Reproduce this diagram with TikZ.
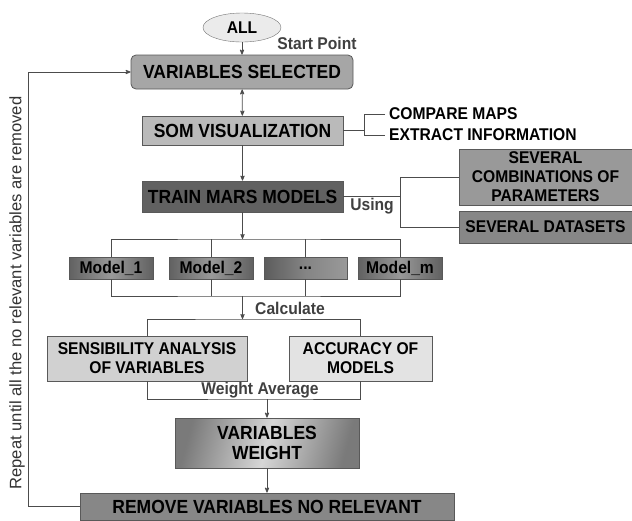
\documentclass[tikz,border=0pt]{standalone}
\usepackage{fontspec}
\setmainfont{Liberation Sans}
\newfontfamily\narrowsans[FakeStretch=0.92]{Liberation Sans}
\usepackage{tikz}
\usetikzlibrary{arrows, positioning, shapes}
\tikzset{
        >=stealth', % small bold arrow heads
        x=1pt, y=-1pt, % one unit is one pixel of the figure, y runs down
        box/.style={draw=black!65, line width=0.8pt, inner sep=0pt, align=center,
                    font=\narrowsans\bfseries\fontsize{19}{20.5}\selectfont}, % step boxes
        smallbox/.style={box, font=\narrowsans\bfseries\fontsize{17}{19}\selectfont}, % boxes with smaller text
        model/.style={smallbox, minimum width=84, minimum height=22,
                      left color=black!62, right color=black!62, middle color=black!40}, % one trained model
        note/.style={inner sep=0pt, text=black!75,
                     font=\narrowsans\bfseries\fontsize{17}{19}\selectfont}, % texts beside the lines
        link/.style={draw=black!70, line width=0.8pt}, % connectors
    }

\begin{document}
\begin{tikzpicture}
    \useasboundingbox (0,0) rectangle (632,520);
    % start
    \node[ellipse, draw=black!55, fill=black!8, minimum width=78, minimum height=29, inner sep=0pt,
          font=\narrowsans\bfseries\fontsize{17}{19}\selectfont] (all) at (242,27.5) {ALL};
    \node[note] (start) at (317,43) {Start Point};
    \node[box, rounded corners=5pt, fill=black!35, minimum width=222, minimum height=34] (varsel) at (242,72) {VARIABLES SELECTED};
    \node[box, fill=black!27, minimum width=201, minimum height=29] (som) at (242.5,130.5) {SOM VISUALIZATION};
    \node[note, anchor=west, text=black] (compare) at (389,114) {COMPARE MAPS};
    \node[note, anchor=west, text=black] (extract) at (389,135) {EXTRACT INFORMATION};
    % training
    \node[box, fill=black!62, minimum width=201, minimum height=31] (train) at (242.5,196.5) {TRAIN MARS MODELS};
    \node[note] (using) at (372,206) {Using};
    \node[smallbox, fill=black!40, minimum width=173, minimum height=56] (params) at (545.5,177) {SEVERAL\\COMBINATIONS OF\\PARAMETERS};
    \node[smallbox, fill=black!47, minimum width=173, minimum height=32] (datasets) at (545.5,227) {SEVERAL DATASETS};
    \node[model] (model1) at (111,268) {Model\_1};
    \node[model] (model2) at (211,268) {Model\_2};
    \node[model, minimum width=83, left color=black!64, right color=black!40, middle color=black!48] (modeldots) at (305.5,268) {...};
    \node[model] (modelm) at (400,268) {Model\_m};
    \coordinate (fanin) at (242.5,239);
    \coordinate (fanout) at (242.5,296);
    \coordinate (split) at (242.5,319);
    % evaluation
    \node[note] (calc) at (290,308) {Calculate};
    \node[smallbox, fill=black!18, minimum width=200, minimum height=45] (sens) at (147,358.5) {SENSIBILITY ANALYSIS\\OF VARIABLES};
    \node[smallbox, fill=black!11, minimum width=143, minimum height=45] (accur) at (360.5,358.5) {ACCURACY OF\\MODELS};
    \coordinate (merge) at (267,399);
    \node[note] (wavg) at (260,390) {Weight Average};
    \node[box, minimum width=184, minimum height=50, left color=black!52, right color=black!52, middle color=black!16,
          shading angle=75] (vweight) at (267,443) {VARIABLES\\WEIGHT};
    \node[box, fill=black!47, minimum width=374, minimum height=27] (remove) at (267,506.5) {REMOVE VARIABLES NO RELEVANT};
    \node[rotate=90, inner sep=0pt, text=black!80, font=\fontsize{16.6}{18}\selectfont] (repeat) at (17,293)
          {Repeat until all the no relevant variables are removed};

    \draw[link, ->] (all) -- (varsel);
    \draw[link, <->] (varsel) -- (som);
    \draw[link] (som.east) -- ++(21,0);
    \draw[link] ([xshift=-4pt]compare.west) -- ++(-21,0) |- ([xshift=-4pt]extract.west);
    \draw[link, ->] (som) -- (train);
    \draw[link] (train.east) -- ++(57,0) coordinate (usej);
    \draw[link] (params.west) -| (usej) |- (datasets.west);
    \draw[link, ->] (train.south) -- (fanin);
    \draw[link] (model1.north) |- (fanin) -| (modelm.north);
    \draw[link] (model2.north) -- (model2.north |- fanin);
    \draw[link] (modeldots.north) -- (modeldots.north |- fanin);
    \draw[link] (model1.south) |- (fanout) -| (modelm.south);
    \draw[link] (model2.south) -- (model2.south |- fanout);
    \draw[link] (modeldots.south) -- (modeldots.south |- fanout);
    \draw[link, ->] (fanout) -- (split);
    \draw[link] (sens.north) |- (split) -| (accur.north);
    \draw[link] (sens.south) |- (merge) -| (accur.south);
    \draw[link, ->] (merge) -- (vweight.north);
    \draw[link, ->] (vweight) -- (remove);
    \draw[link, ->] (remove.west) -- ++(-51,0) |- (varsel.west);
\end{tikzpicture}
\end{document}
